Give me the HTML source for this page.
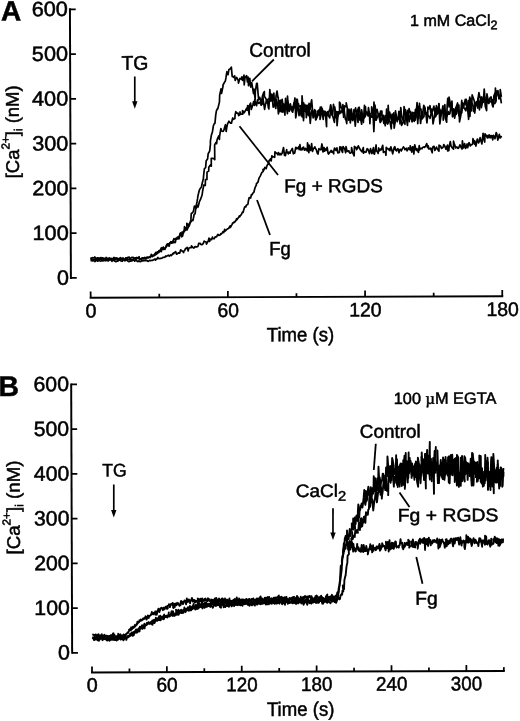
<!DOCTYPE html>
<html><head><meta charset="utf-8"><title>Figure</title>
<style>
html,body{margin:0;padding:0;background:#fff;}
body{width:520px;height:721px;overflow:hidden;}
svg{display:block;}
svg text{font-family:"Liberation Sans", sans-serif;fill:#000;stroke:#000;stroke-width:0.5px;}
svg line, svg path{stroke:#000;}
</style></head><body>
<svg width="520" height="721" viewBox="0 0 520 721">
<rect width="520" height="721" fill="#fff"/>
<g transform="rotate(-0.2063 260.0 360.5)">
<line x1="71.2" y1="7.65" x2="71.2" y2="278.28" stroke-width="1.95"/>
<line x1="71.2" y1="277.3" x2="77.0" y2="277.3" stroke-width="1.75"/>
<text x="69.2" y="284.0" font-size="20.6" text-anchor="end" textLength="12" lengthAdjust="spacingAndGlyphs">0</text>
<line x1="71.2" y1="232.52" x2="77.0" y2="232.52" stroke-width="1.75"/>
<text x="69.2" y="239.22" font-size="20.6" text-anchor="end" textLength="36.3" lengthAdjust="spacingAndGlyphs">100</text>
<line x1="71.2" y1="187.74" x2="77.0" y2="187.74" stroke-width="1.75"/>
<text x="69.2" y="194.44" font-size="20.6" text-anchor="end" textLength="36.3" lengthAdjust="spacingAndGlyphs">200</text>
<line x1="71.2" y1="142.96" x2="77.0" y2="142.96" stroke-width="1.75"/>
<text x="69.2" y="149.66" font-size="20.6" text-anchor="end" textLength="36.3" lengthAdjust="spacingAndGlyphs">300</text>
<line x1="71.2" y1="98.18" x2="77.0" y2="98.18" stroke-width="1.75"/>
<text x="69.2" y="104.88" font-size="20.6" text-anchor="end" textLength="36.3" lengthAdjust="spacingAndGlyphs">400</text>
<line x1="71.2" y1="53.4" x2="77.0" y2="53.4" stroke-width="1.75"/>
<text x="69.2" y="60.1" font-size="20.6" text-anchor="end" textLength="36.3" lengthAdjust="spacingAndGlyphs">500</text>
<line x1="71.2" y1="8.62" x2="77.0" y2="8.62" stroke-width="1.75"/>
<text x="69.2" y="15.32" font-size="20.6" text-anchor="end" textLength="36.3" lengthAdjust="spacingAndGlyphs">600</text>
<line x1="89.93" y1="297.1" x2="503.48" y2="297.1" stroke-width="1.95"/>
<line x1="90.9" y1="297.1" x2="90.9" y2="290.9" stroke-width="1.75"/>
<text x="91.2" y="316.8" font-size="19.6" text-anchor="middle" textLength="11" lengthAdjust="spacingAndGlyphs">0</text>
<line x1="159.5" y1="297.1" x2="159.5" y2="293.3" stroke-width="1.75"/>
<line x1="228.1" y1="297.1" x2="228.1" y2="290.9" stroke-width="1.75"/>
<text x="228.4" y="316.8" font-size="19.6" text-anchor="middle" textLength="21.5" lengthAdjust="spacingAndGlyphs">60</text>
<line x1="296.7" y1="297.1" x2="296.7" y2="293.3" stroke-width="1.75"/>
<line x1="365.3" y1="297.1" x2="365.3" y2="290.9" stroke-width="1.75"/>
<text x="365.6" y="316.8" font-size="19.6" text-anchor="middle" textLength="32.5" lengthAdjust="spacingAndGlyphs">120</text>
<line x1="433.91" y1="297.1" x2="433.91" y2="293.3" stroke-width="1.75"/>
<line x1="502.51" y1="297.1" x2="502.51" y2="290.9" stroke-width="1.75"/>
<text x="502.81" y="316.8" font-size="19.6" text-anchor="middle" textLength="32.5" lengthAdjust="spacingAndGlyphs">180</text>
<text x="300.57" y="341.45" font-size="19.6" text-anchor="middle" font-weight="normal" textLength="67.5" lengthAdjust="spacingAndGlyphs">Time (s)</text>
<text x="2.22" y="19.57" font-size="28" text-anchor="start" font-weight="bold">A</text>
<text transform="translate(19.66,177.43) rotate(-90)" font-size="18.4" textLength="93" lengthAdjust="spacingAndGlyphs">[Ca<tspan dy="-9.3" font-size="11.6">2+</tspan><tspan dy="9.3">]</tspan><tspan dy="3.5" font-size="11.6">i</tspan><tspan dy="-3.5"> (nM)</tspan></text>
<text x="122.55" y="69.2" font-size="19.8" text-anchor="start" font-weight="normal" textLength="27" lengthAdjust="spacingAndGlyphs">TG</text>
<line x1="135.82" y1="76.05" x2="135.71" y2="101.85" stroke-width="1.7"/>
<polygon points="133.01,100.85 138.41,100.85 135.71,108.35" fill="#000" stroke="none"/>
<text x="250.39" y="56.76" font-size="19.6" text-anchor="start" font-weight="normal" textLength="61.5" lengthAdjust="spacingAndGlyphs">Control</text>
<line x1="274.88" y1="59.55" x2="253.01" y2="81.27" stroke-width="1.8"/>
<text x="284.9" y="192.59" font-size="19" text-anchor="start" font-weight="normal" textLength="98.5" lengthAdjust="spacingAndGlyphs">Fg + RGDS</text>
<line x1="240.34" y1="126.23" x2="278.67" y2="175.06" stroke-width="1.8"/>
<text x="269.68" y="255.33" font-size="19.3" text-anchor="start" font-weight="normal" textLength="21.5" lengthAdjust="spacingAndGlyphs">Fg</text>
<line x1="257.58" y1="199.99" x2="270.45" y2="235.04" stroke-width="1.8"/>
<text x="411.2" y="26.54" font-size="16" text-anchor="start" font-weight="normal" textLength="87.5" lengthAdjust="spacingAndGlyphs">1 mM CaCl<tspan dy="3.6" font-size="12.5">2</tspan></text>
<path d="M90.9,256.9 91.9,258.4 93.0,257.0 93.2,257.3 94.7,257.3 95.2,256.3 95.5,257.2 96.5,257.9 97.8,257.3 98.2,257.2 99.0,257.5 99.8,257.9 101.4,257.0 102.0,257.8 103.3,257.3 103.4,257.5 104.6,258.2 105.4,257.7 106.3,257.5 106.5,256.9 108.1,258.4 109.2,257.7 109.6,257.3 110.1,258.0 111.5,258.6 111.6,257.8 112.8,258.8 114.3,256.9 114.8,257.4 115.9,257.8 116.5,257.4 117.6,257.7 118.5,258.5 118.7,258.2 119.4,258.0 120.9,257.2 121.4,258.2 121.9,258.2 123.3,257.4 123.5,258.4 124.5,259.1 126.0,258.6 126.0,257.3 127.2,258.2 127.7,257.2 129.7,256.7 130.1,258.2 130.6,258.2 132.1,256.9 132.5,257.2 133.3,256.8 134.3,257.5 134.8,258.0 135.7,257.4 136.6,257.2 137.3,257.0 138.6,257.8 139.5,256.3 139.7,258.3 141.5,258.2 142.1,257.7 143.1,257.5 143.8,257.6 144.0,258.3 145.2,257.0 146.1,257.7 147.2,257.4 147.8,256.9 148.9,257.4 149.7,256.5 150.6,257.1 151.3,255.6 151.7,253.9 153.2,255.4 154.1,254.9 155.1,253.5 155.2,254.3 156.0,252.2 157.0,252.8 157.8,251.4 159.2,252.0 159.8,250.1 160.9,250.9 161.3,248.6 161.8,247.4 162.7,248.3 163.8,246.7 164.5,248.4 166.0,247.2 166.6,246.5 167.6,243.8 168.2,245.1 168.6,243.5 169.6,243.3 170.7,242.3 171.3,241.4 171.9,242.9 173.6,240.5 174.4,238.2 174.8,239.3 176.2,238.6 176.6,238.7 178.0,236.8 178.6,236.7 179.4,236.9 179.8,236.6 181.0,232.7 182.3,235.0 182.5,231.7 183.9,232.8 184.8,228.8 185.0,226.4 186.3,228.3 187.4,227.2 187.3,223.0 189.0,225.4 189.1,224.3 190.7,222.4 191.4,219.4 191.8,213.2 192.5,212.9 193.9,211.3 195.0,205.8 195.8,206.9 196.4,207.3 197.6,201.5 198.1,198.7 198.5,195.9 199.6,191.3 200.3,189.1 201.9,187.0 202.1,186.3 203.6,180.0 203.9,179.3 204.4,174.4 205.1,168.4 206.3,167.5 206.9,160.7 208.3,158.9 208.9,153.6 210.4,151.0 211.2,144.2 211.2,140.6 212.3,134.4 213.2,132.1 214.2,125.7 215.3,123.1 215.8,123.2 216.6,115.0 217.3,110.8 218.8,107.8 218.7,108.7 220.4,101.7 220.6,95.3 222.0,88.8 222.5,93.2 224.0,86.1 223.9,85.1 224.8,83.4 226.4,80.8 227.0,77.6 227.5,74.0 228.0,71.6 229.1,74.5 229.9,69.4 230.8,69.1 232.4,67.1 233.2,76.3 233.9,76.5 234.5,77.2 235.7,75.8 236.2,80.4 236.9,78.4 237.7,77.4 239.2,80.4 239.5,83.0 240.5,79.8 241.0,78.2 242.6,79.3 242.9,76.9 243.6,80.3 245.0,75.1 245.2,84.9 246.0,77.8 247.6,75.6 248.4,81.9 249.1,77.1 249.5,85.7 250.8,78.4 251.7,87.0 252.2,85.5 252.7,82.5 254.5,93.5 254.9,89.2 256.1,99.5 256.3,91.6 257.6,83.4 258.2,83.3 259.0,93.0 259.6,99.8 260.6,97.4 261.3,99.3 262.4,102.7 263.7,95.2 264.4,93.2 265.3,91.6 265.4,96.5 267.0,98.9 267.7,102.9 268.2,100.3 269.0,99.2 269.9,99.2 271.4,96.7 272.4,94.3 273.2,98.7 273.5,101.0 274.8,93.2 275.4,103.5 276.5,105.6 277.0,96.1 278.0,91.2 279.0,98.2 279.1,97.2 280.5,111.6 281.1,100.7 282.2,112.0 283.5,103.3 283.7,112.3 284.6,104.4 285.8,115.2 286.5,98.5 287.1,105.2 288.3,113.7 288.8,103.6 289.4,110.8 290.6,106.8 291.3,103.9 292.0,110.0 293.6,112.3 294.2,106.1 295.0,102.7 296.0,108.2 296.6,107.2 297.6,99.4 298.7,109.6 299.5,104.1 299.6,107.1 300.6,106.6 301.2,105.8 303.0,116.9 303.1,102.2 304.4,120.8 304.6,103.0 305.6,111.2 306.8,107.3 307.2,117.8 308.3,109.0 309.4,115.7 310.0,105.0 311.1,123.5 311.9,115.3 312.6,110.5 313.8,113.8 314.6,117.3 315.5,115.0 316.2,110.9 316.8,119.8 317.9,114.7 319.1,112.9 319.6,110.3 320.9,115.2 321.2,107.2 322.3,111.6 322.4,107.3 324.1,119.6 324.6,111.6 324.9,112.8 326.1,115.8 327.2,113.8 328.3,111.9 328.4,115.6 329.8,111.9 330.9,109.0 331.6,105.0 332.7,110.5 332.7,115.1 333.7,116.6 335.3,122.6 336.0,110.0 336.6,117.9 337.7,113.7 338.7,112.1 339.6,113.6 340.5,113.9 340.4,102.5 341.1,103.6 342.0,107.5 342.8,108.8 344.7,114.9 344.6,107.0 346.2,119.4 346.9,120.4 347.6,123.9 348.2,110.1 349.1,110.4 349.8,109.5 351.4,115.6 352.1,109.6 352.1,120.1 353.5,118.1 354.1,119.5 354.7,115.7 356.5,108.2 357.2,111.9 357.6,115.0 358.9,122.8 359.3,108.3 360.1,107.6 361.6,116.5 362.5,120.9 362.9,116.4 364.2,122.9 365.0,111.1 365.4,105.8 366.1,117.1 367.3,112.4 367.9,112.4 368.9,116.3 370.2,112.5 370.8,124.0 371.2,114.4 371.8,116.6 372.7,117.5 373.9,114.5 374.7,132.0 375.9,105.5 376.9,115.1 377.0,120.6 378.6,116.5 379.5,115.0 380.4,113.9 380.2,118.4 381.1,122.9 381.9,121.7 383.1,117.6 383.6,117.1 384.7,123.9 385.7,119.6 387.2,116.6 387.5,109.5 388.1,121.5 389.2,123.2 390.2,115.3 390.5,112.5 392.1,120.1 393.0,114.6 393.8,123.7 394.7,113.3 395.0,128.7 396.0,122.7 396.4,115.9 397.4,120.1 399.1,118.7 399.2,119.4 400.7,120.4 401.5,118.8 402.4,123.7 402.4,125.8 404.1,122.6 404.7,113.5 405.0,107.0 406.0,115.4 406.7,112.9 407.9,120.4 408.3,110.8 409.2,115.9 410.1,122.1 411.5,112.6 412.2,119.6 413.4,121.4 413.6,114.4 414.9,119.4 415.1,121.9 416.4,110.0 417.7,111.1 418.7,115.4 418.4,116.0 419.5,119.1 420.4,103.9 421.0,110.1 421.8,109.6 423.2,119.4 423.6,113.7 424.7,105.9 425.9,109.2 426.4,115.0 427.2,113.4 428.4,117.1 429.0,116.0 430.2,117.6 430.9,119.0 431.9,114.2 432.4,109.8 433.2,115.1 433.9,124.5 435.6,115.3 436.3,109.0 437.3,113.6 437.3,106.3 439.0,113.8 439.8,104.2 440.0,109.3 440.8,110.1 442.0,115.4 442.4,111.8 443.6,111.6 444.1,113.6 445.8,105.4 446.2,119.0 447.5,122.8 448.0,107.8 448.7,99.0 450.1,107.7 450.0,97.9 451.4,105.4 452.3,110.4 452.9,101.9 453.3,117.5 454.7,109.9 455.5,114.6 456.7,108.4 457.0,115.0 457.9,108.4 458.6,108.5 460.0,116.7 461.2,112.3 461.1,119.1 462.7,101.2 462.9,109.2 463.5,103.5 464.5,107.9 466.2,100.1 467.0,105.9 467.2,100.0 468.8,112.7 469.5,120.1 469.9,104.2 470.8,117.2 471.8,99.2 472.1,104.1 472.8,103.7 474.0,106.6 474.5,112.1 476.1,108.0 476.8,105.2 477.4,102.4 478.8,108.9 478.9,99.8 479.9,93.4 480.8,98.3 481.5,99.1 482.3,106.4 484.0,100.8 484.0,98.0 485.5,99.8 485.7,97.8 486.4,107.7 487.9,99.7 489.1,104.2 489.9,104.2 490.2,101.5 490.7,101.4 492.4,103.3 493.3,100.7 494.2,105.4 494.8,96.8 495.8,94.1 496.8,102.9 497.1,94.1 498.1,95.4 498.9,91.5 499.9,99.8 500.8,95.9 501.4,98.2 502.3,104.3" fill="none" stroke-width="1.7" stroke-linejoin="round"/>
<path d="M90.9,259.1 91.7,258.8 93.0,259.8 93.9,259.1 94.7,259.0 95.4,258.8 95.7,259.1 97.3,258.7 97.4,258.2 98.9,258.3 98.9,258.4 99.7,259.4 101.4,257.5 101.5,258.9 102.7,258.0 103.4,258.7 104.2,259.2 105.2,258.9 106.1,259.0 107.4,258.4 108.0,258.6 109.2,258.9 109.9,258.5 110.0,258.4 111.2,258.1 112.2,259.4 112.7,258.2 113.9,257.9 115.2,258.2 115.2,259.4 116.7,258.4 117.8,258.0 117.8,259.5 119.3,259.4 119.4,258.6 121.1,258.4 121.2,259.2 122.1,258.8 123.6,257.9 123.8,259.0 124.6,258.6 125.5,258.7 126.8,258.8 126.9,258.2 127.9,258.8 128.7,258.9 130.0,258.6 130.3,259.0 132.1,259.2 132.5,259.6 133.5,259.1 133.9,258.5 135.3,258.2 135.4,258.6 136.3,258.0 138.1,257.9 138.2,257.8 139.3,257.8 140.2,259.1 140.7,258.6 142.0,259.1 142.5,258.6 143.7,258.3 144.1,257.6 145.2,257.8 146.1,258.5 146.4,257.4 147.4,256.8 148.2,257.4 149.5,256.9 150.4,256.1 151.7,255.6 151.9,255.2 152.6,256.3 154.3,254.9 154.7,255.3 156.0,254.2 156.2,252.3 156.7,253.9 158.0,252.7 159.4,251.7 159.2,250.5 160.5,250.2 161.8,251.2 161.9,248.2 163.4,248.4 163.5,249.2 164.6,248.4 165.3,249.1 167.0,244.6 167.5,245.3 168.0,243.8 169.5,245.9 170.0,244.1 170.6,242.5 171.8,241.5 172.7,242.6 173.8,242.4 173.7,240.8 175.4,242.3 176.0,241.5 176.3,238.0 177.5,238.8 177.9,238.6 179.7,238.4 179.7,236.0 180.7,233.2 182.0,236.5 183.0,235.8 183.2,235.1 184.0,231.0 184.7,231.3 185.6,230.2 187.3,227.7 187.4,229.8 188.5,227.3 189.8,225.4 190.8,222.1 191.6,221.3 192.5,220.4 193.2,219.6 193.5,220.2 194.7,214.0 195.6,213.6 196.2,208.8 197.2,207.2 198.5,204.9 198.6,206.8 200.1,201.1 201.1,199.2 201.5,198.1 202.7,194.8 203.3,190.4 204.2,186.2 204.3,184.8 205.9,185.3 206.1,179.3 207.6,179.3 207.7,171.9 209.4,170.8 209.5,167.1 211.1,164.8 212.0,166.0 212.0,158.1 212.8,158.1 214.6,158.5 215.5,159.5 215.4,144.8 216.8,142.2 217.4,143.5 217.9,139.5 219.6,135.8 220.2,139.2 220.4,135.9 221.7,128.5 222.5,130.8 224.0,131.3 224.9,129.7 224.9,129.1 226.3,124.6 227.0,131.4 227.6,127.2 228.6,123.1 229.3,122.3 229.8,121.1 231.4,123.1 232.3,123.1 233.3,118.8 233.7,117.9 234.0,119.3 235.8,118.4 235.9,115.4 236.7,111.5 237.5,113.0 238.9,112.9 239.5,115.5 240.7,114.7 240.9,111.9 241.6,113.9 243.5,114.2 243.4,110.6 244.5,111.8 245.0,112.8 246.8,109.7 247.6,108.0 248.2,110.2 248.6,105.6 250.1,114.8 250.2,105.8 251.5,103.0 252.2,109.4 253.8,104.4 254.6,101.5 255.3,105.3 255.7,99.9 256.6,103.2 257.5,105.7 258.4,99.8 258.8,102.4 259.7,103.3 261.1,101.9 262.1,105.3 263.1,104.1 263.7,95.5 264.3,100.9 264.7,103.8 265.5,109.4 266.4,104.2 267.9,99.7 268.3,99.9 269.3,107.8 269.8,108.9 270.8,89.6 271.8,101.2 272.9,94.4 274.1,107.3 274.1,106.6 275.1,104.3 276.7,108.5 277.4,100.0 278.4,104.1 278.7,106.0 279.3,113.9 280.1,109.4 281.6,100.5 282.6,103.0 283.1,99.4 284.0,107.6 285.1,104.3 285.2,110.3 286.5,106.9 287.3,107.0 288.5,96.3 288.7,100.3 289.4,104.5 290.2,111.4 291.2,104.9 291.8,108.9 293.0,106.9 294.1,109.9 294.8,105.5 295.9,98.1 296.6,118.1 297.7,111.6 298.2,99.4 299.4,108.6 299.9,115.8 301.1,109.1 302.0,115.9 302.9,109.7 303.0,95.9 304.5,118.2 304.5,109.0 305.8,104.8 306.8,112.1 307.1,105.8 308.0,105.3 309.0,112.1 310.0,103.5 311.2,109.3 311.5,105.4 312.6,100.0 314.0,118.1 314.2,113.9 315.6,109.9 316.2,116.4 316.5,120.1 318.3,116.8 318.2,111.3 319.3,115.3 320.9,109.3 320.9,119.5 322.6,112.4 323.1,109.0 323.4,110.4 324.2,111.8 326.0,111.7 326.3,113.4 327.4,127.0 327.6,113.8 328.9,115.3 329.3,115.5 330.6,118.1 330.9,115.4 331.8,109.3 333.6,114.7 334.4,104.6 335.1,108.9 335.7,107.4 336.1,111.5 337.6,111.9 337.9,125.9 338.6,118.5 339.7,112.1 340.9,111.2 341.7,113.2 342.8,110.9 343.2,112.1 343.8,105.0 344.5,117.6 345.5,106.2 347.2,107.1 347.1,103.1 348.6,110.4 349.2,120.5 349.8,110.5 351.2,123.3 351.9,115.3 352.2,109.4 353.7,121.0 353.9,119.8 354.9,110.0 356.1,126.6 357.2,113.2 357.9,111.9 359.1,109.6 359.7,113.9 360.8,120.5 360.9,115.6 362.5,124.6 362.5,110.1 363.4,116.1 364.2,119.0 365.0,118.5 366.4,107.2 366.6,111.6 368.3,115.1 368.9,114.1 369.4,107.9 370.9,119.0 371.7,114.5 372.4,114.0 372.6,107.2 374.4,117.2 374.9,102.5 376.0,120.6 376.1,116.1 376.8,112.3 377.9,109.7 379.3,115.9 380.2,116.3 381.1,119.8 381.4,111.6 382.8,111.6 382.9,115.7 384.2,119.9 384.5,115.9 386.1,126.2 386.5,116.0 387.1,122.1 388.5,124.5 389.1,105.9 389.9,120.8 390.8,122.1 392.1,129.3 392.5,120.4 393.9,121.5 393.9,122.1 395.0,124.7 396.4,111.4 397.0,115.1 398.0,122.2 398.9,118.9 399.4,115.5 399.8,111.8 400.9,124.4 401.7,108.1 402.4,115.9 403.8,119.9 404.2,120.9 405.8,124.8 406.2,110.1 407.4,119.2 408.3,126.0 408.9,116.8 410.0,109.1 410.8,113.1 411.4,112.2 412.0,115.5 412.9,122.5 413.6,112.8 414.7,113.9 415.5,113.3 416.2,120.7 416.8,116.7 418.0,103.2 418.6,124.3 419.7,106.9 420.2,106.7 421.4,124.1 422.4,116.7 422.7,118.4 423.8,118.3 424.8,117.2 425.5,107.5 426.7,113.2 427.8,123.6 428.6,115.9 428.8,107.7 429.7,109.5 430.9,106.3 431.6,112.8 432.1,110.5 433.1,112.3 434.8,106.8 435.6,112.3 435.8,111.8 436.3,117.6 438.0,114.1 438.3,114.7 438.9,113.2 439.9,104.8 440.7,124.6 442.4,112.8 442.4,113.3 443.9,106.5 444.1,120.7 444.8,116.5 446.0,110.4 447.1,115.7 447.9,116.9 449.1,112.2 449.5,114.9 450.5,114.8 450.8,114.1 452.4,103.0 453.2,111.1 454.2,116.5 454.2,109.5 455.5,118.9 456.5,113.1 456.7,108.9 458.5,103.7 459.3,114.3 459.8,105.7 460.4,122.6 461.7,115.2 462.7,113.3 463.2,108.3 464.4,107.5 464.5,108.5 465.5,109.2 466.8,111.5 467.3,107.9 468.3,107.6 469.3,101.4 470.1,105.4 470.7,97.9 471.3,105.9 472.4,111.6 473.1,95.7 474.6,99.7 475.4,102.9 475.6,113.8 476.9,103.5 477.8,102.9 478.4,103.5 478.9,99.5 480.4,110.6 480.6,103.0 482.1,97.7 482.3,108.5 483.7,99.5 484.2,103.3 485.2,89.9 486.6,108.5 487.5,111.4 487.9,94.6 488.9,100.4 489.8,102.0 490.6,100.0 490.8,98.9 492.0,97.7 493.3,106.3 494.0,107.8 494.3,104.6 495.9,104.2 496.4,89.0 496.9,101.2 497.5,91.9 499.1,95.1 499.6,97.7 501.1,97.5 501.2,90.4 502.3,97.8" fill="none" stroke-width="1.7" stroke-linejoin="round"/>
<path d="M90.9,259.8 91.7,260.0 92.3,260.2 93.7,259.9 94.6,260.5 95.4,261.0 96.1,260.0 97.2,259.5 97.7,260.5 98.3,260.6 99.1,259.1 99.8,260.1 101.2,260.6 102.2,259.7 102.9,259.4 103.2,260.4 104.7,259.6 105.6,260.2 106.0,259.4 107.1,260.0 107.4,260.0 108.8,260.4 109.0,260.0 110.2,259.0 111.6,259.7 112.3,260.7 112.8,260.2 114.3,259.3 114.8,260.4 116.0,261.0 116.3,261.2 117.4,260.6 118.2,260.7 118.4,260.1 119.4,259.9 120.2,259.3 121.1,260.3 122.8,260.7 123.3,259.5 124.3,259.3 125.3,260.4 125.4,260.0 126.8,259.6 127.4,259.1 128.1,260.6 129.4,261.2 130.3,260.3 130.9,260.8 131.9,260.5 132.9,260.0 133.2,259.8 134.6,259.8 135.0,260.7 136.4,259.2 137.0,260.1 137.7,261.1 139.0,260.7 139.3,260.3 139.8,261.1 141.0,261.3 141.7,260.5 143.2,260.4 143.2,260.4 144.5,260.3 145.3,259.6 145.7,260.3 147.2,259.9 147.9,260.6 148.6,261.0 150.0,260.0 149.9,260.0 151.4,260.2 151.8,260.0 152.9,260.0 153.6,259.7 154.8,258.8 155.9,259.8 155.8,258.6 157.1,258.9 158.3,257.0 158.6,258.1 159.5,258.2 161.0,258.0 161.0,258.1 162.4,257.8 163.3,257.1 164.1,257.1 164.3,257.0 166.2,256.3 166.0,255.8 166.8,255.9 168.3,255.1 168.6,254.9 169.7,255.7 171.1,254.5 171.7,255.2 172.5,254.3 173.8,252.6 173.7,253.7 175.5,251.9 176.0,251.4 176.9,253.5 177.0,253.9 178.8,252.6 179.1,252.6 180.0,252.9 181.1,249.6 181.7,250.0 183.1,251.2 184.0,252.3 184.2,250.7 184.9,250.5 186.0,248.2 187.5,248.2 187.5,247.1 188.6,250.7 189.1,248.0 190.3,247.4 191.7,247.5 191.9,245.6 192.3,246.0 193.8,247.8 194.9,247.4 195.2,246.6 195.8,246.4 197.0,246.7 198.3,246.2 198.8,244.8 199.1,243.1 200.7,243.1 201.1,244.2 202.3,244.5 203.0,244.0 203.6,243.4 204.6,240.9 205.4,241.5 206.5,241.6 206.9,243.9 208.7,240.7 209.4,237.9 210.1,241.3 210.4,239.0 212.1,239.4 212.9,236.9 212.8,237.7 213.8,238.5 214.6,238.6 215.6,236.7 217.0,236.7 218.0,234.8 218.4,234.2 219.1,235.2 220.3,235.1 221.3,233.5 221.8,233.9 222.6,232.8 223.4,231.6 224.2,232.5 225.1,229.3 225.6,230.9 227.3,229.3 227.7,229.0 228.8,228.4 229.4,227.9 230.6,225.7 230.8,227.4 232.3,224.8 233.3,222.7 233.3,223.2 234.4,222.1 234.9,222.3 236.5,220.3 237.1,218.6 237.4,219.7 239.2,217.2 240.1,215.7 240.2,216.8 241.6,214.6 241.7,214.9 243.2,211.7 243.7,212.3 244.2,210.1 245.3,206.8 246.5,206.8 246.7,205.3 248.5,204.2 248.9,201.2 249.8,197.5 251.2,198.0 252.0,194.7 252.6,194.9 253.5,193.1 254.4,192.4 255.1,189.7 255.9,187.1 257.0,184.9 257.0,183.9 258.8,181.9 258.9,180.9 259.7,178.1 261.0,175.9 261.8,174.2 262.6,172.4 263.8,171.6 263.7,169.3 264.7,169.8 265.6,167.4 266.9,168.6 267.5,166.1 268.7,163.8 269.3,164.2 269.7,160.9 271.4,158.9 271.9,161.0 272.6,155.8 273.4,157.1 274.9,156.7 275.4,157.4 275.7,151.8 276.9,153.0 278.4,154.2 278.4,154.7 279.1,152.7 279.9,154.9 280.8,153.5 281.6,155.0 282.9,153.4 284.3,147.6 285.2,155.5 286.0,153.1 286.2,155.7 287.4,149.8 287.6,151.7 289.2,154.0 289.5,152.2 290.8,153.3 291.2,151.4 292.3,150.1 293.1,148.6 294.1,153.9 294.7,152.8 295.4,153.3 296.6,147.4 297.7,148.9 298.1,148.7 299.6,146.9 299.9,149.7 300.7,144.7 301.5,150.1 303.0,149.8 303.1,148.4 304.3,147.3 305.1,150.3 306.4,149.9 306.3,148.6 308.1,151.1 308.3,143.0 309.6,152.8 309.8,145.2 311.2,150.6 311.7,150.0 312.4,143.9 313.2,151.7 314.1,149.1 315.7,147.1 316.1,148.6 316.8,149.3 318.2,153.6 318.7,154.3 319.7,148.7 320.1,149.6 320.9,149.5 321.7,150.0 322.7,144.2 323.7,152.2 324.8,147.7 325.3,151.5 326.2,149.2 326.8,150.6 327.9,147.5 328.9,153.8 329.3,154.3 330.8,152.2 331.9,150.7 332.3,152.4 332.9,151.4 334.5,154.0 334.4,152.1 335.3,148.3 336.8,150.7 337.7,148.2 338.1,150.9 338.6,153.2 340.1,152.7 340.6,147.2 342.0,147.6 342.0,150.0 343.3,152.7 343.8,146.8 345.5,149.4 346.4,153.1 346.8,146.9 347.8,151.3 348.8,151.8 349.7,151.1 349.7,152.1 350.8,153.5 352.1,152.9 352.4,147.9 353.4,153.0 354.9,156.1 355.2,146.8 356.1,147.9 356.6,147.6 357.4,150.1 359.1,146.2 359.8,148.0 359.9,148.1 361.6,150.9 362.4,151.8 362.7,152.2 364.1,148.0 364.2,153.6 365.1,152.1 366.7,152.6 367.1,151.4 367.9,149.1 368.6,149.6 369.3,151.2 370.2,154.0 371.3,149.1 372.2,152.2 372.6,154.0 374.2,148.1 374.3,153.1 375.2,154.6 376.9,145.4 377.2,151.3 377.8,151.6 378.9,153.9 379.5,148.4 380.3,151.2 382.1,149.0 382.0,150.3 383.5,145.7 384.1,152.9 384.7,151.9 386.2,152.7 386.7,155.7 387.0,147.9 388.2,149.0 389.3,150.2 390.0,149.1 390.7,151.2 391.6,147.3 392.4,149.8 393.4,154.4 394.9,148.1 395.6,147.2 396.1,150.2 397.3,151.4 397.3,150.1 398.7,149.2 399.8,153.2 400.0,150.6 401.2,149.8 402.0,151.5 402.4,150.6 404.2,147.3 404.4,148.0 405.4,149.0 405.7,150.2 407.1,148.8 407.8,151.4 409.2,149.2 409.1,148.3 410.9,150.5 411.0,146.3 412.5,152.7 413.3,147.3 414.0,147.7 414.6,154.6 415.5,145.3 416.6,150.0 417.1,151.0 417.6,149.2 419.2,152.9 420.0,146.2 420.4,150.5 421.2,148.9 422.8,149.3 423.0,148.5 423.6,147.8 425.3,147.4 425.5,148.0 426.5,146.5 427.5,144.2 428.3,148.2 428.9,146.3 429.7,149.7 430.9,149.1 431.3,148.7 433.0,153.4 433.1,149.2 433.9,147.1 434.8,146.9 435.6,151.1 437.3,147.7 437.6,148.8 438.8,150.7 439.7,151.8 439.8,145.8 441.2,146.6 442.3,149.1 442.5,148.9 444.1,147.5 444.5,145.2 445.3,146.2 446.7,149.9 446.7,149.0 448.3,145.8 448.4,151.7 449.6,151.1 449.9,147.7 451.1,142.2 451.8,146.7 453.3,148.9 454.3,149.9 454.3,141.9 455.0,144.2 456.5,148.6 457.7,147.7 458.6,149.1 459.3,149.0 460.0,147.2 460.7,145.5 460.9,146.2 462.8,149.8 463.2,141.5 464.0,148.5 464.3,148.6 465.4,144.4 466.4,149.2 467.9,144.7 468.4,148.5 469.3,145.0 469.8,143.4 471.1,146.7 471.3,145.4 472.3,145.7 473.4,144.8 473.8,139.4 475.5,145.0 475.6,141.7 476.7,146.8 478.1,139.8 478.3,139.8 479.4,143.7 480.4,141.3 480.9,138.4 481.6,141.0 482.7,144.7 483.9,134.1 484.3,138.7 485.5,142.9 485.8,134.6 486.8,136.0 488.3,138.8 488.2,136.4 490.0,138.5 489.9,135.6 491.6,138.6 491.9,136.5 493.1,136.6 493.5,140.8 494.3,136.2 495.0,137.6 495.8,139.5 497.0,133.4 497.5,134.3 498.6,140.9 500.1,135.3 500.8,138.8 501.3,138.6 502.3,136.7" fill="none" stroke-width="1.7" stroke-linejoin="round"/>
<line x1="71.1" y1="382.73" x2="71.1" y2="653.18" stroke-width="1.95"/>
<line x1="71.1" y1="652.2" x2="76.9" y2="652.2" stroke-width="1.75"/>
<text x="68.89999999999999" y="658.9" font-size="20.6" text-anchor="end" textLength="12" lengthAdjust="spacingAndGlyphs">0</text>
<line x1="71.1" y1="607.45" x2="76.9" y2="607.45" stroke-width="1.75"/>
<text x="68.89999999999999" y="614.15" font-size="20.6" text-anchor="end" textLength="35.5" lengthAdjust="spacingAndGlyphs">100</text>
<line x1="71.1" y1="562.7" x2="76.9" y2="562.7" stroke-width="1.75"/>
<text x="68.89999999999999" y="569.4" font-size="20.6" text-anchor="end" textLength="35.5" lengthAdjust="spacingAndGlyphs">200</text>
<line x1="71.1" y1="517.95" x2="76.9" y2="517.95" stroke-width="1.75"/>
<text x="68.89999999999999" y="524.65" font-size="20.6" text-anchor="end" textLength="35.5" lengthAdjust="spacingAndGlyphs">300</text>
<line x1="71.1" y1="473.2" x2="76.9" y2="473.2" stroke-width="1.75"/>
<text x="68.89999999999999" y="479.9" font-size="20.6" text-anchor="end" textLength="35.5" lengthAdjust="spacingAndGlyphs">400</text>
<line x1="71.1" y1="428.45" x2="76.9" y2="428.45" stroke-width="1.75"/>
<text x="68.89999999999999" y="435.15" font-size="20.6" text-anchor="end" textLength="35.5" lengthAdjust="spacingAndGlyphs">500</text>
<line x1="71.1" y1="383.7" x2="76.9" y2="383.7" stroke-width="1.75"/>
<text x="68.89999999999999" y="390.4" font-size="20.6" text-anchor="end" textLength="35.5" lengthAdjust="spacingAndGlyphs">600</text>
<line x1="89.93" y1="671.8" x2="503.68" y2="671.8" stroke-width="1.95"/>
<line x1="90.9" y1="671.8" x2="90.9" y2="665.8" stroke-width="1.75"/>
<text x="91.0" y="691.0999999999999" font-size="19.6" text-anchor="middle" textLength="11" lengthAdjust="spacingAndGlyphs">0</text>
<line x1="128.34" y1="671.8" x2="128.34" y2="668.0" stroke-width="1.75"/>
<line x1="165.77" y1="671.8" x2="165.77" y2="665.8" stroke-width="1.75"/>
<text x="165.87" y="691.0999999999999" font-size="19.6" text-anchor="middle" textLength="21.3" lengthAdjust="spacingAndGlyphs">60</text>
<line x1="203.21" y1="671.8" x2="203.21" y2="668.0" stroke-width="1.75"/>
<line x1="240.65" y1="671.8" x2="240.65" y2="665.8" stroke-width="1.75"/>
<text x="240.75" y="691.0999999999999" font-size="19.6" text-anchor="middle" textLength="31.4" lengthAdjust="spacingAndGlyphs">120</text>
<line x1="278.09" y1="671.8" x2="278.09" y2="668.0" stroke-width="1.75"/>
<line x1="315.52" y1="671.8" x2="315.52" y2="665.8" stroke-width="1.75"/>
<text x="315.62" y="691.0999999999999" font-size="19.6" text-anchor="middle" textLength="31.4" lengthAdjust="spacingAndGlyphs">180</text>
<line x1="352.96" y1="671.8" x2="352.96" y2="668.0" stroke-width="1.75"/>
<line x1="390.4" y1="671.8" x2="390.4" y2="665.8" stroke-width="1.75"/>
<text x="390.5" y="691.0999999999999" font-size="19.6" text-anchor="middle" textLength="31.4" lengthAdjust="spacingAndGlyphs">240</text>
<line x1="427.83" y1="671.8" x2="427.83" y2="668.0" stroke-width="1.75"/>
<line x1="465.27" y1="671.8" x2="465.27" y2="665.8" stroke-width="1.75"/>
<text x="465.37" y="691.0999999999999" font-size="19.6" text-anchor="middle" textLength="31.4" lengthAdjust="spacingAndGlyphs">300</text>
<line x1="502.71" y1="671.8" x2="502.71" y2="668.0" stroke-width="1.75"/>
<text x="299.42" y="715.95" font-size="19.6" text-anchor="middle" font-weight="normal" textLength="67.5" lengthAdjust="spacingAndGlyphs">Time (s)</text>
<text x="-1.73" y="395.06" font-size="28.4" text-anchor="start" font-weight="bold">B</text>
<text transform="translate(19.2,553.64) rotate(-90)" font-size="18.4" textLength="94" lengthAdjust="spacingAndGlyphs">[Ca<tspan dy="-9.3" font-size="11.6">2+</tspan><tspan dy="9.3">]</tspan><tspan dy="3.5" font-size="11.6">i</tspan><tspan dy="-3.5"> (nM)</tspan></text>
<text x="101.88" y="476.03" font-size="18.3" text-anchor="start" font-weight="normal" textLength="24.5" lengthAdjust="spacingAndGlyphs">TG</text>
<line x1="113.35" y1="483.97" x2="113.23" y2="510.47" stroke-width="1.7"/>
<polygon points="110.53,509.47 115.93,509.47 113.23,516.97" fill="#000" stroke="none"/>
<text x="359.52" y="438.16" font-size="18.6" text-anchor="start" font-weight="normal" textLength="61" lengthAdjust="spacingAndGlyphs">Control</text>
<line x1="375.5" y1="444.22" x2="373.41" y2="470.41" stroke-width="1.8"/>
<text x="295.21" y="497.13" font-size="18" text-anchor="start" font-weight="normal" textLength="50.5" lengthAdjust="spacingAndGlyphs">CaCl<tspan dy="3.8" font-size="14">2</tspan></text>
<line x1="332.47" y1="508.56" x2="332.35" y2="533.76" stroke-width="1.7"/>
<polygon points="329.65,532.76 335.05,532.76 332.35,540.26" fill="#000" stroke="none"/>
<text x="397.22" y="522.0" font-size="18.2" text-anchor="start" font-weight="normal" textLength="100.5" lengthAdjust="spacingAndGlyphs">Fg + RGDS</text>
<line x1="399.02" y1="493.0" x2="408.97" y2="507.54" stroke-width="1.8"/>
<text x="414.42" y="605.26" font-size="18.8" text-anchor="start" font-weight="normal" textLength="22.5" lengthAdjust="spacingAndGlyphs">Fg</text>
<line x1="415.59" y1="557.56" x2="421.7" y2="584.38" stroke-width="1.8"/>
<text x="393.64" y="404.48" font-size="16.2" text-anchor="start" font-weight="normal" textLength="102.5" lengthAdjust="spacingAndGlyphs">100 <tspan font-family="Liberation Serif, serif">µ</tspan>M EGTA</text>
<path d="M91.5,634.3 91.8,634.3 92.0,633.9 92.6,634.3 93.8,635.4 93.9,634.2 94.9,633.8 94.6,634.8 95.3,635.3 96.5,635.8 96.6,634.6 97.5,633.6 97.9,636.4 98.1,635.3 98.7,634.9 99.5,635.8 99.2,635.1 100.4,634.7 100.9,633.7 100.5,634.1 101.3,635.4 102.0,636.5 102.8,635.1 102.9,634.6 103.5,634.7 103.5,634.2 104.1,636.0 104.9,635.5 105.5,635.1 106.5,635.4 106.3,635.7 107.3,635.9 107.0,636.1 108.1,635.4 108.8,635.8 108.8,636.2 109.2,636.1 109.7,634.7 110.5,634.6 111.1,636.1 112.0,633.0 111.8,635.7 112.6,633.0 112.6,634.8 113.4,634.2 113.7,635.3 114.8,635.9 114.9,636.0 115.7,635.8 116.1,635.9 116.4,636.8 117.2,635.2 117.2,633.3 118.4,634.8 118.8,635.9 118.8,636.3 119.5,633.8 120.3,635.4 120.9,635.1 121.4,635.7 121.9,634.7 122.4,636.4 122.7,634.0 122.7,634.6 124.1,636.3 123.6,634.4 124.2,634.5 124.8,635.6 125.0,633.6 125.7,633.2 127.0,631.7 126.8,632.7 127.7,631.1 128.4,629.8 128.1,629.3 129.2,628.5 129.8,629.9 130.5,627.7 130.1,626.9 131.2,628.5 131.6,626.6 132.2,626.2 132.6,627.5 133.5,626.2 133.9,624.4 133.9,624.6 134.4,626.0 134.7,624.9 136.0,624.3 135.8,622.9 137.0,622.8 136.5,621.2 138.1,621.8 137.8,621.8 138.2,621.5 138.5,619.9 139.8,620.5 139.9,618.9 140.6,619.7 140.9,619.9 141.9,618.9 142.1,618.1 142.9,618.1 142.8,618.8 143.8,618.3 143.6,617.6 145.0,617.8 144.5,615.9 145.6,616.9 145.7,619.2 146.3,616.9 147.0,616.8 147.0,615.0 147.8,617.5 148.2,615.9 149.3,615.2 149.9,614.6 150.1,614.6 150.7,612.4 150.9,611.5 151.1,613.4 152.4,613.8 152.4,614.0 152.9,612.4 154.0,612.9 154.5,614.3 154.3,611.1 155.4,611.0 155.8,613.6 155.8,614.4 156.6,611.2 157.5,608.3 157.4,610.4 157.9,609.5 158.5,611.6 159.5,608.2 159.1,610.3 159.6,608.1 160.6,607.3 161.6,608.5 161.7,609.1 162.0,609.9 162.8,607.4 162.6,608.4 163.6,609.0 164.2,607.8 164.2,607.7 164.8,606.3 165.3,606.5 166.2,608.6 167.0,607.8 166.5,605.7 167.7,605.5 168.1,603.8 169.0,604.8 169.0,606.8 169.8,604.1 170.0,604.7 170.1,603.7 171.2,604.3 171.7,602.6 172.5,607.8 172.2,607.3 172.6,603.3 174.0,603.9 173.8,607.1 174.3,603.8 174.5,603.3 175.3,604.4 175.7,605.0 176.3,602.5 177.1,603.4 177.1,603.8 177.6,603.0 178.6,605.6 179.5,604.4 179.8,604.6 179.9,601.8 180.2,600.6 181.4,603.1 181.9,601.5 182.1,603.8 182.6,602.7 182.7,601.3 184.0,601.3 183.7,600.2 184.5,601.0 185.2,604.1 186.0,598.1 185.7,601.9 186.9,599.6 187.4,600.3 187.1,601.7 187.9,599.2 189.0,600.3 189.2,603.0 189.2,600.9 190.6,599.6 190.5,599.0 191.0,599.6 191.1,597.7 191.6,601.4 192.5,600.3 193.0,599.5 193.9,600.1 193.6,602.3 194.6,602.0 194.7,600.6 195.9,601.5 196.0,600.7 196.9,599.9 196.9,598.1 197.6,600.9 197.7,598.8 198.1,601.3 198.7,601.5 199.5,598.4 199.8,600.4 200.4,601.0 201.3,598.2 201.0,602.8 202.5,599.6 203.0,600.0 202.8,600.3 203.9,600.5 203.6,598.9 204.6,598.3 204.6,600.3 205.4,600.5 206.5,599.1 206.6,600.9 206.9,600.1 207.1,598.1 207.7,599.8 208.9,599.0 208.5,600.6 209.6,601.4 210.5,600.5 210.0,601.7 210.9,599.4 211.5,603.9 211.7,599.7 213.1,600.3 213.5,600.2 214.0,598.3 213.7,599.0 214.9,599.3 215.1,600.8 215.4,597.7 216.2,600.2 216.5,601.5 217.3,599.7 217.0,601.7 218.3,601.3 218.2,598.4 219.2,601.0 219.8,601.7 220.5,601.8 220.1,599.5 221.2,598.4 221.2,604.1 222.2,600.2 222.0,598.5 223.1,600.9 223.8,602.6 224.4,599.8 224.1,598.4 224.5,602.8 225.0,602.0 226.2,599.4 226.7,602.3 227.3,600.8 227.8,600.6 227.7,601.4 228.6,598.3 228.5,603.1 229.2,602.8 229.6,600.6 231.0,600.9 230.5,603.0 231.3,603.1 232.1,602.7 232.4,599.9 233.1,600.6 233.7,599.0 234.3,599.5 234.6,601.5 234.7,602.3 235.1,600.6 235.9,597.4 236.7,601.8 237.2,601.9 237.7,599.7 238.1,601.0 238.2,598.3 239.5,601.5 239.4,599.6 240.3,599.8 240.8,600.1 241.2,599.2 241.8,601.3 242.4,599.4 242.9,599.5 243.5,600.2 243.8,602.9 244.4,599.6 245.0,600.1 244.8,601.6 245.5,598.8 246.0,600.4 246.2,601.7 246.9,603.3 247.4,599.3 248.4,599.0 248.9,600.1 249.2,600.4 249.3,601.9 250.3,600.9 250.6,598.9 251.1,600.1 251.2,600.0 252.3,598.4 252.6,598.4 253.1,602.9 253.5,600.6 254.4,600.4 254.6,599.7 255.1,600.7 255.7,601.0 256.0,598.4 256.8,599.5 256.8,599.6 257.8,598.5 258.3,600.1 258.3,598.2 258.6,598.9 259.7,596.4 260.2,599.5 260.0,600.9 261.1,598.4 261.8,600.5 261.9,600.0 262.0,600.0 262.9,600.8 263.4,599.2 263.9,597.8 264.4,601.8 264.9,597.6 265.2,600.6 265.6,598.2 267.0,597.1 266.6,600.4 267.4,598.5 267.6,600.3 268.3,596.9 269.0,601.0 269.4,599.2 270.0,599.6 270.4,600.7 271.1,599.3 271.0,598.2 272.1,601.9 272.1,601.6 273.2,600.2 273.0,597.8 273.6,600.5 274.3,597.4 275.1,598.4 275.3,600.2 276.4,597.1 276.9,601.0 277.1,601.6 278.0,595.6 277.6,596.1 278.4,597.4 278.7,599.4 280.0,598.3 279.6,597.2 280.4,597.7 280.5,596.8 282.0,601.3 282.1,597.6 282.2,597.8 283.4,599.9 283.9,597.3 284.2,598.9 284.6,598.9 285.1,599.1 285.7,599.4 285.5,597.0 286.4,600.2 286.7,599.7 287.8,600.4 288.2,598.9 288.8,599.9 288.7,598.0 290.0,598.4 290.1,599.3 290.0,599.2 291.2,597.7 291.5,599.1 291.9,599.2 292.4,597.1 293.5,598.4 293.5,597.1 294.2,599.0 295.0,599.2 295.4,598.0 295.3,600.6 296.2,596.1 296.6,599.1 296.7,596.8 297.9,600.0 298.5,599.5 298.6,599.8 299.3,598.8 299.9,596.9 299.7,600.0 300.0,598.4 300.7,598.4 301.8,597.8 302.4,597.1 302.1,598.1 303.0,599.2 303.4,597.7 303.7,596.6 304.2,596.2 305.0,596.5 305.6,599.3 306.3,599.7 306.9,596.7 306.8,598.0 307.5,598.2 308.1,596.4 309.0,596.2 309.4,597.8 309.9,597.1 310.1,598.1 310.4,599.7 310.7,596.4 311.4,598.7 312.6,599.0 312.8,599.4 312.7,598.7 313.6,599.4 313.8,598.1 314.3,599.9 314.6,596.6 315.8,595.8 315.9,597.4 316.3,596.4 316.8,596.7 317.1,597.4 318.2,599.3 318.5,598.1 319.5,596.7 320.0,599.8 320.3,596.0 320.4,599.4 320.9,600.0 322.0,598.9 321.7,597.7 322.8,599.1 323.5,599.7 323.4,599.4 324.1,599.0 324.2,600.0 325.2,596.8 325.1,596.7 326.5,594.7 326.0,596.3 326.8,596.8 327.5,597.3 328.3,598.7 328.4,599.9 328.9,596.9 329.9,596.8 330.2,600.0 330.6,596.6 331.1,595.1 331.5,597.6 331.7,598.8 332.6,597.6 332.6,596.8 333.3,600.4 334.1,596.8 334.8,596.0 335.3,596.1 335.1,595.8 335.8,596.8 336.5,592.6 337.3,592.4 338.0,592.2 337.8,591.7 339.0,583.9 339.2,579.9 339.5,574.8 339.6,573.4 340.0,566.3 341.3,564.9 341.7,556.2 342.3,556.9 342.4,551.6 342.9,548.2 343.7,548.7 343.5,551.8 344.1,539.0 345.1,536.1 345.7,538.5 346.4,543.7 346.4,530.8 346.8,539.3 347.2,535.8 348.0,539.6 349.1,529.3 349.1,532.0 349.9,536.4 349.7,535.7 350.4,530.4 351.2,530.0 351.2,523.7 352.4,530.1 352.6,518.9 353.2,524.5 353.1,521.5 354.5,529.8 354.0,518.7 354.5,517.7 355.0,524.4 356.0,515.8 356.5,517.5 357.5,521.9 357.3,512.2 357.8,504.7 358.7,517.8 359.0,511.8 359.7,509.8 360.2,505.7 360.7,506.1 361.2,503.8 361.0,505.6 361.9,507.9 362.4,504.5 363.2,497.5 363.8,490.4 364.3,502.7 364.8,505.3 365.4,501.8 365.4,491.3 366.6,500.1 366.0,501.4 367.3,495.8 367.5,489.8 367.9,487.0 368.7,492.2 368.8,493.0 369.8,499.3 370.5,490.4 370.3,487.7 370.6,502.2 371.3,496.7 372.0,488.6 372.1,490.5 373.0,494.0 373.3,476.6 374.4,490.9 374.7,491.7 374.8,478.7 375.1,489.3 375.9,483.8 377.0,490.4 376.5,485.4 377.0,478.6 377.7,484.6 378.1,467.1 379.1,487.2 379.6,481.6 380.4,489.7 380.1,484.7 381.4,480.6 381.6,481.2 382.3,474.1 382.7,474.1 382.8,476.9 383.7,482.8 383.5,481.7 384.5,479.8 384.9,485.9 385.7,468.0 386.2,476.9 386.6,476.9 386.8,472.4 387.1,456.9 388.5,475.0 388.9,473.0 389.1,475.6 389.3,467.2 389.9,466.6 390.1,478.7 391.2,480.6 391.2,473.1 391.8,458.5 392.3,460.4 393.3,466.1 393.2,472.3 394.5,474.6 394.7,469.4 395.3,474.2 395.8,455.7 395.8,468.0 396.6,459.8 397.3,487.5 398.0,479.1 397.9,483.6 398.8,478.3 398.6,477.4 399.4,482.5 400.2,473.4 400.6,479.8 400.8,475.6 401.3,486.5 401.6,483.1 402.0,474.1 403.1,466.4 403.1,468.9 404.1,464.3 404.9,464.8 405.4,473.8 405.4,453.5 405.5,467.6 406.2,461.4 407.4,479.1 407.9,478.2 408.3,453.1 408.4,469.6 409.5,461.4 409.0,464.8 410.3,461.6 410.4,464.5 411.3,475.1 411.7,464.0 412.2,467.1 412.3,474.9 413.4,466.9 413.7,467.1 414.4,474.9 414.4,472.0 414.6,468.1 415.6,461.9 415.7,470.1 416.7,463.9 417.2,468.1 417.3,471.5 417.8,469.5 418.2,467.6 418.6,473.1 419.3,479.0 420.4,466.3 421.0,466.8 421.3,463.3 421.4,453.1 422.3,473.0 422.3,462.4 423.2,471.8 423.6,480.5 423.5,459.9 424.7,461.8 425.4,489.1 425.1,454.5 426.4,473.0 426.3,458.5 426.8,450.5 427.0,468.8 427.6,456.0 428.0,470.7 429.1,454.8 429.5,442.5 429.5,474.8 430.6,459.2 430.7,464.6 431.3,481.8 432.3,465.7 432.8,473.1 432.8,465.0 433.3,468.9 434.3,451.7 434.1,471.0 435.5,447.7 435.3,460.3 435.9,465.5 436.7,465.9 437.5,483.8 437.7,474.0 438.0,482.4 438.2,469.1 438.5,483.8 439.3,467.0 440.5,464.7 441.1,466.0 441.1,475.0 441.5,477.5 442.4,479.8 442.7,458.1 443.0,476.0 443.2,472.8 443.9,463.1 444.0,480.5 445.2,463.5 445.7,466.8 445.6,473.8 446.3,472.8 447.1,471.9 447.3,475.1 448.0,460.5 448.3,482.8 449.2,484.0 449.7,470.6 450.1,465.0 450.6,455.7 451.3,467.3 451.6,466.7 451.9,455.4 452.1,462.6 452.5,463.0 453.9,476.1 453.8,470.5 454.3,470.3 454.5,475.1 455.0,475.7 455.6,458.7 456.4,486.3 457.1,461.4 457.4,463.3 457.6,464.0 458.4,487.6 459.0,480.8 459.4,480.6 460.3,486.5 460.6,467.9 461.0,472.8 461.9,481.7 462.2,475.7 462.8,466.2 463.5,465.3 463.4,476.1 464.3,482.3 464.1,477.8 465.4,462.2 465.1,474.9 466.3,466.5 466.2,465.0 466.7,463.6 467.2,480.6 468.2,464.1 468.8,467.0 469.0,465.3 469.4,473.4 469.9,475.3 470.2,471.2 471.3,486.4 471.8,477.1 471.7,453.7 473.0,486.2 473.4,479.0 473.1,476.3 474.2,471.7 474.2,473.1 474.5,474.1 475.3,466.7 475.5,463.2 476.9,464.6 476.5,482.5 477.2,462.7 477.9,474.0 478.4,471.7 478.5,468.8 479.9,463.0 480.3,456.7 480.5,480.8 481.3,484.3 481.0,476.1 482.4,476.2 482.6,481.0 483.4,486.5 483.6,478.7 483.6,472.5 484.9,480.7 485.2,481.2 486.0,464.6 486.5,475.6 486.6,461.8 487.5,463.3 487.2,470.2 487.5,490.7 488.4,481.6 488.6,476.3 490.0,480.5 489.6,485.0 491.0,458.0 491.2,482.3 491.7,487.4 492.4,478.5 492.8,480.2 493.1,475.7 493.0,454.7 494.2,474.9 494.5,470.7 494.7,478.3 495.3,482.0 496.4,468.6 496.4,471.6 497.2,475.0 497.4,461.4 497.5,466.4 498.1,481.5 499.5,470.9 499.7,476.4 499.8,473.3 500.0,486.6 500.7,468.5 501.2,474.2 501.8,470.6 503.0,477.2 503.0,473.0" fill="none" stroke-width="1.9" stroke-linejoin="round"/>
<path d="M91.5,636.8 92.4,636.8 92.1,636.6 92.8,637.1 93.4,637.0 93.7,639.0 94.2,638.3 94.6,636.8 95.9,638.1 95.7,636.5 96.0,636.2 96.9,637.6 97.0,636.7 97.9,638.3 98.7,636.3 99.1,637.2 99.6,637.9 100.5,636.0 100.6,637.1 100.5,636.9 101.1,637.5 102.1,636.7 102.2,636.4 103.4,635.8 103.4,637.1 104.2,637.7 104.0,637.5 104.6,638.2 106.0,638.1 105.5,637.1 106.1,637.3 107.1,637.8 107.6,636.5 107.7,638.2 108.9,638.2 109.0,638.4 109.3,638.1 110.1,637.8 110.3,636.0 111.2,637.6 111.1,637.6 111.8,638.5 112.7,636.4 113.5,638.3 114.1,637.5 113.5,636.9 114.1,636.9 115.4,636.3 115.0,637.4 116.4,635.6 116.8,636.1 116.5,638.4 117.7,636.2 118.0,635.8 119.0,637.3 119.5,636.5 119.2,637.0 119.6,636.5 120.0,636.4 121.1,636.9 121.0,636.6 121.5,637.6 122.7,636.2 122.9,637.4 123.5,636.6 123.6,636.9 124.2,637.3 124.6,637.2 125.2,637.1 126.0,636.7 126.9,635.6 126.7,636.5 127.6,635.4 127.7,636.1 128.1,635.1 128.6,635.2 129.3,633.1 130.5,634.3 130.8,633.3 130.7,632.5 131.1,631.9 131.9,633.5 132.7,632.8 132.9,631.6 133.2,633.0 134.3,631.7 134.1,630.8 135.5,630.8 135.0,629.1 136.5,629.3 136.5,630.0 137.1,628.8 137.7,629.6 137.8,628.2 138.9,628.0 138.9,626.2 139.8,627.2 139.8,628.1 140.9,625.2 141.3,625.9 141.2,624.8 142.3,625.7 142.4,625.0 142.5,625.7 143.5,625.2 143.5,623.4 144.2,624.6 145.3,624.7 145.8,623.7 145.8,622.5 146.5,623.5 147.1,622.4 147.3,622.0 148.4,623.1 148.8,622.7 148.7,622.2 149.5,622.0 150.3,621.3 150.3,623.2 151.4,620.0 152.0,620.4 151.6,620.2 152.3,620.6 152.7,619.9 153.6,619.4 153.7,620.3 154.8,620.3 154.9,617.3 155.5,619.6 156.3,618.1 156.2,618.3 157.4,617.7 157.6,618.4 158.0,618.5 158.1,615.8 159.1,617.8 159.4,615.3 159.6,617.5 160.2,616.8 161.5,616.2 161.6,617.5 161.5,617.8 162.1,617.1 163.3,614.2 163.4,616.2 163.7,615.9 164.9,615.9 165.4,615.8 165.4,615.9 165.7,616.4 166.1,616.2 167.5,615.5 167.9,612.2 167.7,615.7 169.0,615.2 169.3,614.4 169.1,615.0 170.0,614.0 170.7,611.0 170.8,614.1 171.7,614.4 171.6,613.7 172.0,611.0 173.3,614.7 173.1,613.3 173.6,615.6 174.2,613.4 175.4,612.3 175.1,609.4 176.4,612.3 176.3,611.6 177.5,609.5 177.6,610.9 177.6,613.2 178.0,611.8 179.0,610.6 179.6,612.4 179.7,609.9 180.5,609.4 180.7,612.8 181.9,612.1 181.8,611.5 182.8,609.5 183.2,610.2 183.5,607.2 183.8,610.1 184.6,608.8 184.7,610.1 185.5,608.4 186.1,609.3 186.4,610.0 187.0,607.0 187.9,608.1 187.9,609.0 188.3,608.8 188.6,607.0 189.0,605.7 190.3,609.3 190.9,607.3 190.8,607.0 191.1,607.1 191.7,608.5 192.7,603.8 192.6,606.2 193.2,606.5 194.4,607.5 194.8,604.6 195.5,608.6 195.6,605.9 196.5,604.7 196.7,604.2 197.1,602.2 197.7,607.2 198.4,602.9 198.1,606.0 198.8,606.9 199.5,606.2 199.6,604.1 200.9,603.8 200.7,605.3 201.9,604.0 201.9,603.1 202.0,603.9 203.2,604.3 203.4,604.2 204.0,602.6 204.4,605.1 205.3,602.3 205.5,605.2 205.7,602.8 206.3,603.6 206.8,603.9 207.2,605.6 207.9,603.5 208.1,604.7 209.3,603.5 209.5,604.1 209.6,603.2 210.3,601.5 210.7,604.6 211.7,602.1 212.1,603.8 212.4,601.4 212.9,602.1 213.7,604.5 213.7,601.3 214.7,603.0 214.6,605.0 215.5,603.3 215.6,600.9 216.4,605.1 216.9,603.6 217.6,603.7 217.6,602.8 219.0,603.6 218.8,603.4 219.0,603.7 219.5,602.6 220.2,601.1 221.0,600.8 222.0,602.9 222.3,601.0 223.0,602.2 223.5,600.5 223.6,601.8 223.5,602.7 224.7,602.8 225.3,603.8 225.0,601.1 226.1,605.8 226.3,601.8 227.1,603.0 227.3,603.5 227.8,600.7 228.9,601.4 228.8,603.5 229.6,604.3 229.9,602.8 230.7,601.9 230.9,604.6 231.8,604.3 231.6,601.0 233.0,603.5 233.4,603.8 233.4,601.6 233.6,601.5 234.8,604.3 234.8,601.8 235.7,603.1 235.7,602.2 236.5,602.1 237.3,602.3 238.0,600.7 237.8,602.5 238.8,601.8 238.6,602.0 239.5,605.1 239.9,603.4 240.3,600.7 241.5,599.9 241.5,603.5 241.6,601.5 242.8,602.2 243.3,600.5 243.3,603.3 243.6,603.6 244.0,602.4 244.7,603.1 245.2,601.1 245.9,602.6 246.9,602.9 246.6,603.5 247.2,601.6 247.8,602.6 248.6,599.2 248.5,601.5 249.1,600.9 249.5,600.4 250.5,602.6 251.1,604.1 251.1,601.6 252.3,603.6 252.6,602.3 253.1,603.3 253.0,602.7 253.9,602.4 254.1,599.9 254.6,602.0 255.5,599.3 255.7,601.2 256.9,602.6 256.8,601.5 257.0,599.4 258.2,601.6 258.4,602.9 258.5,598.4 259.7,600.7 260.3,598.8 260.0,600.9 261.0,600.3 261.7,598.9 261.7,602.5 262.2,600.1 263.4,603.1 263.2,600.2 264.1,600.3 264.6,599.5 265.4,602.7 265.0,601.7 266.2,600.8 266.3,603.6 267.2,600.5 267.0,603.5 268.1,604.2 268.6,602.4 269.0,602.6 270.0,601.8 269.9,598.8 270.3,600.8 271.2,602.3 271.0,601.6 272.0,601.2 272.1,600.2 273.0,602.4 273.4,603.4 273.9,601.8 274.7,600.0 275.5,601.2 275.8,601.4 276.4,601.0 276.7,599.6 277.4,601.9 278.0,602.7 278.1,599.7 278.9,600.9 278.6,598.3 279.5,600.1 280.0,598.3 280.7,599.5 280.8,600.3 281.7,600.0 282.4,598.5 282.0,600.5 283.1,599.3 283.4,600.4 283.7,602.6 285.0,600.9 285.2,599.6 285.1,601.5 286.0,599.0 286.9,600.2 286.5,600.5 287.2,601.4 288.1,601.3 288.6,600.0 289.1,602.7 289.5,602.4 289.5,601.5 290.5,602.5 291.1,600.5 291.0,599.6 292.6,602.4 292.2,601.0 292.8,600.4 293.8,599.0 293.8,600.9 294.3,602.4 295.4,600.6 295.3,602.0 296.1,600.2 296.8,601.8 296.9,598.5 297.6,598.7 298.1,600.6 298.5,601.2 299.4,600.2 299.5,599.4 300.4,602.7 300.5,600.1 301.3,601.3 301.3,600.0 302.1,599.6 302.0,600.5 303.5,603.6 304.0,600.5 303.8,600.3 304.6,601.5 304.7,600.4 305.2,599.9 306.4,598.9 306.3,597.1 306.6,600.1 307.5,600.2 307.9,602.7 308.2,601.2 309.5,600.5 309.4,601.8 310.1,599.6 310.2,598.3 311.0,598.6 311.5,599.8 312.2,602.4 313.0,602.2 312.9,601.9 313.6,600.1 314.0,602.2 314.4,597.8 315.5,601.4 315.5,602.2 315.8,598.8 316.8,599.9 316.7,602.2 317.1,600.1 317.9,599.8 318.1,602.8 318.6,600.1 319.5,597.7 320.5,598.8 320.1,600.9 320.8,601.2 321.1,600.6 321.8,597.8 322.2,599.7 323.1,602.3 323.1,598.7 323.9,600.3 324.5,599.6 325.5,601.3 325.3,598.4 326.2,598.9 326.5,600.7 326.9,598.8 327.2,597.2 327.9,598.0 328.9,600.0 329.1,598.6 329.5,599.2 329.5,600.6 330.3,598.4 330.7,597.4 331.0,597.6 332.2,599.9 332.1,597.9 332.8,597.3 333.7,599.9 334.4,598.9 334.5,599.4 335.1,600.8 335.5,597.3 335.5,601.6 336.3,599.9 336.8,597.8 337.0,597.2 338.4,598.8 338.3,599.6 338.7,599.6 339.1,599.1 339.8,595.7 340.9,594.1 341.3,595.0 341.6,591.1 342.5,591.8 342.0,585.7 343.2,589.4 343.3,587.0 343.6,580.5 344.6,576.0 344.8,576.1 345.7,567.5 346.2,564.6 346.6,563.2 346.9,556.1 348.0,554.7 348.2,554.4 348.0,548.8 348.6,550.3 349.6,542.4 350.3,543.2 350.9,541.4 350.6,539.0 351.7,536.9 351.5,532.4 352.2,539.5 352.6,536.1 353.3,536.3 354.1,537.4 354.6,531.1 354.8,531.3 355.5,533.3 356.5,530.3 356.2,532.3 357.3,533.2 357.0,530.7 357.8,529.8 358.3,523.4 359.3,530.5 359.8,519.4 359.8,527.2 360.1,527.8 360.7,518.6 361.1,526.8 361.6,526.7 362.8,518.7 362.8,522.8 363.3,517.2 364.3,516.8 364.8,523.2 365.4,512.6 365.2,516.4 366.0,514.6 366.0,512.8 367.3,515.1 367.7,510.2 368.3,509.3 368.4,509.4 368.8,498.3 369.6,507.2 370.2,499.8 370.4,499.4 370.7,502.7 371.0,501.2 371.8,499.6 372.1,503.8 372.7,510.9 373.6,503.2 374.5,499.0 374.9,494.7 374.8,497.0 375.7,489.9 375.8,488.3 376.4,502.8 377.5,494.3 377.6,492.9 378.2,492.6 378.9,480.9 379.3,477.9 380.0,483.1 380.0,495.3 380.7,488.5 381.2,495.1 381.3,499.1 381.6,495.9 382.1,492.8 383.3,480.5 383.7,487.9 383.9,482.9 384.7,490.4 384.6,475.9 385.7,484.8 385.6,478.8 386.3,491.2 387.4,488.7 387.9,486.9 387.7,495.6 388.0,479.6 388.9,473.5 390.0,482.6 390.2,483.2 390.9,476.2 391.4,472.5 391.1,475.5 392.4,471.4 392.9,470.5 392.7,477.9 393.4,487.1 393.8,477.5 394.1,483.3 394.5,479.3 395.8,472.6 396.2,467.7 396.2,483.9 396.9,485.7 397.8,482.5 397.6,467.3 398.8,479.5 399.4,465.5 399.1,487.1 400.4,474.4 400.2,463.9 401.1,467.8 401.2,464.1 401.7,476.6 402.8,485.4 402.9,460.8 403.2,465.8 404.2,456.2 404.4,489.4 405.0,479.5 405.2,463.0 406.3,467.8 406.9,474.8 407.3,483.0 407.5,471.2 407.8,473.3 408.2,471.2 408.6,474.1 409.4,458.5 409.6,472.1 410.8,464.9 411.2,478.4 411.6,464.7 412.5,475.0 412.4,476.0 413.3,471.6 414.0,480.3 414.5,469.2 414.7,464.6 415.0,477.7 415.4,467.6 415.8,476.8 416.4,472.1 416.6,482.1 417.7,487.4 417.5,458.3 418.6,464.6 419.1,464.9 419.8,476.8 419.7,480.0 420.1,483.8 421.4,463.6 421.1,457.5 421.5,461.0 422.7,464.2 423.1,475.5 424.0,480.3 424.5,476.4 424.7,454.5 424.8,463.3 425.3,478.2 425.6,469.5 426.1,470.8 427.2,472.3 427.4,473.6 427.5,474.2 428.2,465.8 429.5,480.2 429.2,456.6 430.4,475.6 430.1,463.4 430.9,468.9 431.9,476.2 432.3,469.9 432.8,458.6 433.5,494.5 433.6,470.2 433.6,472.8 434.6,459.2 435.3,473.4 435.9,464.0 435.6,471.0 436.7,466.6 437.4,466.0 437.1,451.2 437.6,467.3 438.0,466.4 438.8,478.5 439.2,466.9 439.6,476.2 440.4,460.6 440.9,468.8 441.3,463.4 442.1,463.9 442.9,462.0 442.6,466.6 443.4,460.1 443.9,478.6 444.0,470.7 444.9,475.5 445.2,457.6 446.0,467.4 446.3,464.6 447.3,476.3 447.7,468.0 447.7,458.0 448.8,456.9 449.3,467.0 449.5,473.0 449.8,474.7 451.0,474.3 450.6,460.5 451.0,471.1 451.9,476.0 452.5,460.3 452.8,464.2 453.0,464.6 454.3,459.5 454.3,482.7 454.8,479.3 455.1,473.5 456.2,472.8 456.2,476.3 456.6,455.6 457.9,458.2 457.8,471.2 459.0,480.8 459.3,475.0 459.9,484.1 459.8,478.1 460.5,458.5 461.3,469.0 461.4,472.0 461.7,456.6 462.8,476.0 463.3,472.2 463.4,468.3 463.6,477.3 464.1,457.0 464.9,458.8 465.0,463.1 466.1,463.5 466.0,472.8 467.4,466.7 467.3,474.1 468.2,470.2 468.4,468.8 469.5,469.7 469.2,476.9 470.4,459.5 470.1,475.8 470.6,468.7 471.8,469.4 471.8,463.1 472.4,454.2 473.4,465.5 473.1,470.3 473.6,461.9 474.3,468.1 475.4,477.9 475.7,471.7 476.0,470.6 476.6,470.5 477.4,481.8 477.3,474.3 478.4,479.3 479.0,467.2 479.0,456.3 480.0,457.7 480.3,482.7 480.0,474.0 480.6,473.0 481.0,481.1 481.6,468.9 482.4,487.4 482.6,479.7 483.5,478.5 484.3,484.0 484.9,455.8 485.0,471.0 485.5,465.0 486.3,470.6 486.3,477.1 487.2,458.6 487.5,466.2 487.6,468.4 488.4,486.9 489.3,472.7 490.0,490.8 490.1,475.1 490.9,477.2 491.3,460.6 491.4,473.8 491.7,481.7 492.7,458.3 493.3,494.1 493.3,479.1 494.0,474.8 494.9,477.8 495.2,483.3 495.6,483.5 495.7,479.1 497.0,483.2 497.3,465.4 497.2,469.8 497.9,472.8 498.7,489.4 499.1,481.6 499.0,483.4 499.5,483.5 500.2,468.3 501.5,479.8 501.8,481.5 501.8,487.6 502.2,486.7 503.0,468.8" fill="none" stroke-width="1.9" stroke-linejoin="round"/>
<path d="M91.5,638.5 92.2,637.4 92.9,639.4 93.5,639.3 93.0,639.1 93.8,637.6 94.1,638.6 94.8,638.6 95.5,638.3 96.5,639.7 96.4,637.5 96.5,639.1 97.4,637.9 97.9,640.2 98.3,638.8 98.9,638.9 99.3,638.4 100.5,637.9 100.3,637.5 101.1,638.4 101.5,639.6 101.8,637.8 102.0,638.1 102.7,638.7 103.1,637.7 103.8,638.4 104.8,638.2 105.5,639.6 105.5,638.7 106.1,638.3 106.4,639.9 107.1,637.2 107.0,639.2 107.9,638.2 108.8,637.9 108.5,640.3 109.9,637.9 110.0,637.8 110.4,639.2 111.0,638.3 112.0,637.5 112.1,639.4 112.9,639.3 113.1,639.0 113.6,637.4 114.4,638.7 114.0,639.5 115.3,639.1 115.6,640.0 116.4,637.6 116.3,639.3 116.8,639.4 117.7,637.5 117.8,637.9 118.5,638.3 118.8,636.8 119.3,638.0 119.7,639.1 120.7,637.9 120.9,638.4 121.7,638.5 121.7,637.9 122.4,639.9 123.4,638.1 123.0,637.5 123.5,638.3 124.6,637.9 125.5,638.8 125.3,639.4 125.5,638.4 126.5,636.7 127.0,635.9 127.1,636.9 127.5,636.0 128.9,635.6 129.1,635.6 129.6,634.8 129.5,634.0 130.6,634.7 131.1,634.4 131.9,635.4 131.7,633.2 132.1,632.7 132.7,634.7 133.3,632.5 133.5,631.1 134.4,632.2 135.5,631.8 135.8,632.2 135.5,629.7 136.7,631.5 137.0,631.2 137.2,629.5 137.9,627.9 138.6,631.0 138.6,628.7 139.7,628.1 139.5,628.4 140.7,627.5 141.1,628.1 141.5,628.4 141.8,628.0 142.8,626.8 142.5,625.2 143.7,627.9 143.7,625.9 144.1,625.8 144.8,624.8 145.9,624.0 146.1,624.0 146.1,624.1 147.0,622.4 147.4,623.0 147.8,621.9 148.0,623.3 148.9,623.2 149.8,622.6 149.6,622.3 150.4,623.5 150.8,623.4 151.3,623.1 151.5,624.4 152.1,622.0 152.8,619.8 153.4,621.1 153.5,622.6 154.2,621.1 155.0,619.3 155.4,619.4 156.2,620.3 156.3,620.5 157.3,619.5 157.8,618.2 158.2,619.5 158.7,619.8 159.5,619.9 159.8,619.8 159.6,617.9 161.0,618.0 161.3,618.5 161.4,617.8 162.1,616.9 162.7,619.0 162.9,616.2 163.1,618.4 163.5,615.6 164.6,616.7 165.2,616.4 165.4,615.4 165.6,615.6 166.2,617.2 166.7,615.2 167.8,616.1 168.0,615.1 168.7,616.1 168.7,615.3 169.6,615.4 170.4,614.4 170.3,615.0 170.7,613.8 171.9,615.7 172.4,614.1 172.2,613.0 173.1,615.1 173.4,614.4 174.2,614.7 174.7,614.6 175.5,612.9 175.6,614.0 176.0,614.5 176.3,614.1 177.5,613.9 177.9,610.1 177.6,614.5 178.9,611.4 179.0,611.8 179.8,610.4 179.8,610.7 180.4,612.2 181.3,612.2 181.2,610.5 181.9,610.4 182.4,612.5 182.7,610.6 183.7,609.1 183.4,611.1 184.8,610.7 184.5,611.9 185.7,609.7 185.7,609.8 186.8,609.5 186.6,609.8 187.5,608.5 187.9,610.5 188.8,606.7 188.9,609.8 189.7,610.1 190.3,610.1 190.5,608.7 191.5,606.0 191.2,609.0 192.4,607.0 192.7,607.9 192.8,608.0 193.0,606.6 194.5,609.3 194.8,606.7 195.1,608.6 195.0,607.9 196.2,606.7 196.7,608.0 196.8,608.7 197.6,605.9 198.2,607.5 198.8,605.0 198.5,606.4 199.2,606.5 199.9,606.7 200.4,605.1 201.2,606.8 201.6,608.2 201.7,607.5 203.0,606.8 202.5,606.1 203.5,604.3 203.7,607.7 204.0,604.6 205.4,605.0 205.2,606.8 206.0,605.8 206.1,606.6 207.4,605.8 207.7,604.7 207.6,605.4 208.3,605.9 208.5,604.5 209.4,606.8 209.6,604.8 210.3,603.6 210.5,605.8 211.5,606.4 211.8,607.6 213.0,605.4 213.2,604.4 213.4,603.1 214.1,605.2 215.0,605.9 214.5,604.6 215.8,603.2 216.5,603.6 216.4,602.7 216.8,604.8 217.4,605.0 218.4,604.2 218.8,606.0 219.2,606.9 219.1,603.2 220.1,607.6 220.0,602.0 220.5,602.7 221.6,604.1 222.3,605.8 222.2,602.8 222.8,607.2 223.4,604.3 224.0,605.0 224.3,607.0 225.0,605.3 225.8,605.4 226.3,604.2 226.7,605.8 227.3,603.5 227.5,604.6 228.0,606.6 228.3,605.8 229.1,604.5 229.8,604.5 230.2,604.4 230.7,603.4 230.7,606.3 231.5,604.2 232.2,604.3 232.1,604.9 233.2,605.9 234.0,604.1 234.0,604.8 234.6,602.5 235.0,603.8 235.3,604.9 236.5,604.3 236.4,602.8 237.0,605.1 237.5,601.6 238.0,604.7 238.6,603.3 239.2,604.7 239.9,603.6 239.9,605.2 240.1,604.0 241.1,603.8 241.6,605.8 242.0,603.5 243.0,604.0 243.4,604.1 243.0,602.9 244.5,603.8 244.3,603.6 244.7,603.6 245.0,604.0 246.2,601.9 246.7,601.7 246.8,604.7 247.7,604.6 248.5,605.6 248.3,604.6 249.1,603.8 249.0,603.7 250.3,604.7 250.2,604.8 251.1,605.3 251.5,602.5 252.3,604.6 253.0,602.7 253.1,603.9 254.0,605.6 253.9,603.1 254.0,603.8 255.4,603.9 255.0,600.3 255.9,604.5 256.6,604.5 257.3,602.8 257.4,602.7 258.0,601.2 258.4,603.9 259.2,603.4 259.2,603.1 259.8,604.2 260.4,602.0 261.3,603.8 261.4,603.2 262.1,602.8 262.0,603.6 263.5,603.0 263.0,602.0 263.6,603.4 264.6,602.2 264.7,601.6 265.0,604.5 266.0,601.0 267.0,601.8 266.5,604.4 268.0,603.0 267.7,602.0 268.5,603.1 269.0,601.2 269.7,603.4 270.4,602.9 270.4,602.7 271.0,603.7 271.8,601.9 271.6,603.0 272.7,601.6 273.5,603.5 273.7,603.8 274.3,601.8 274.2,601.7 275.2,601.3 275.4,603.6 276.2,601.8 276.3,603.5 277.2,602.1 277.2,601.1 277.9,603.1 278.6,603.7 278.5,603.3 279.8,601.7 280.3,602.4 280.0,602.1 280.9,602.3 281.2,604.3 281.8,601.5 282.7,603.3 282.7,601.8 283.4,600.8 284.1,604.9 284.1,604.1 284.8,601.1 285.7,602.2 286.3,600.9 286.9,604.0 287.0,603.0 287.3,602.8 287.8,601.5 288.3,603.1 288.8,602.3 289.3,602.9 290.5,602.1 290.2,601.6 291.5,603.3 291.3,602.9 292.3,603.1 292.0,603.4 292.8,602.9 293.6,603.0 293.6,602.8 295.0,603.9 294.9,603.6 295.7,603.9 296.0,601.8 296.3,601.5 296.6,601.7 298.0,602.6 297.6,603.3 298.0,602.5 299.4,602.1 299.7,601.8 300.5,603.6 301.0,600.3 300.6,600.6 301.9,602.3 302.3,603.3 302.7,604.9 302.8,602.3 303.1,601.6 304.2,600.9 304.1,602.5 305.3,601.4 305.4,601.0 306.4,605.0 306.8,601.8 307.5,602.3 307.9,600.9 307.6,601.7 308.2,602.3 309.0,602.8 309.0,603.4 310.0,602.3 310.4,603.8 311.4,601.0 312.0,602.8 312.1,600.5 313.0,602.1 312.8,602.0 314.0,602.1 314.0,601.6 314.0,600.9 315.4,602.2 315.0,603.1 316.3,602.9 316.2,599.8 317.5,601.0 317.3,602.9 317.6,602.4 318.7,600.0 318.6,601.4 319.9,600.5 319.7,601.2 320.2,599.5 321.5,603.9 321.8,601.0 322.3,603.9 322.4,603.3 322.6,602.7 323.2,601.8 324.2,601.7 324.7,601.6 325.4,602.5 325.6,600.2 326.5,603.1 326.5,601.3 327.5,601.1 327.5,600.9 328.2,602.3 329.0,602.6 328.7,602.4 329.3,602.5 329.5,603.6 330.4,601.6 330.9,600.0 331.9,601.7 331.9,601.5 333.0,601.5 332.8,600.2 333.3,601.1 334.1,600.9 334.0,602.4 335.2,602.1 335.3,603.1 336.3,598.6 336.7,598.9 337.5,595.8 337.6,592.6 337.8,589.0 338.6,585.7 339.2,581.0 339.4,581.6 340.2,575.3 341.0,569.3 341.2,564.1 341.1,561.0 342.2,556.5 343.0,553.2 342.5,552.6 343.2,543.4 344.1,548.0 344.5,548.3 344.9,549.0 345.4,545.0 346.1,542.8 346.7,541.8 347.2,544.3 347.4,549.9 348.5,545.3 348.9,541.2 348.6,545.7 349.1,542.0 349.7,549.9 350.2,543.9 350.5,547.4 351.5,544.8 351.5,542.9 352.5,551.9 352.8,544.4 353.1,548.9 353.7,547.9 354.7,551.9 355.2,551.6 355.2,549.5 356.2,548.4 356.5,544.2 356.9,548.7 357.7,550.4 357.9,547.8 358.4,550.2 358.6,551.5 359.6,549.5 359.8,552.1 360.7,547.3 361.0,545.4 361.0,552.0 361.8,550.0 362.7,552.3 363.0,545.4 364.0,551.4 363.5,551.3 364.7,551.5 365.0,549.2 365.0,551.4 365.6,546.4 366.5,551.5 367.4,549.8 367.1,554.8 367.8,551.1 368.9,548.2 368.9,549.9 369.6,544.7 369.9,549.6 370.3,545.8 371.4,551.6 371.5,552.8 372.4,545.7 372.8,551.1 372.6,547.6 374.0,548.7 373.6,549.7 374.5,548.3 375.1,550.6 375.7,549.7 375.9,546.8 376.0,546.9 377.5,549.0 377.5,546.8 378.3,546.5 378.8,544.4 379.4,548.6 379.2,551.1 380.5,548.9 380.1,546.6 381.4,547.5 381.3,547.4 381.5,543.7 382.7,546.5 383.5,546.7 383.2,546.3 383.6,546.4 384.9,550.8 385.5,545.5 385.3,542.2 386.1,548.6 386.5,548.4 387.2,542.5 387.9,549.4 388.0,551.9 388.9,540.6 388.9,543.1 389.5,544.3 389.5,550.0 390.7,548.3 391.1,543.1 391.3,548.9 391.9,543.4 392.9,544.2 392.5,543.5 393.1,549.3 394.1,545.1 394.6,541.9 395.4,544.0 395.2,542.2 395.5,546.8 396.0,548.0 396.6,547.3 397.6,546.6 398.2,548.1 398.2,546.6 399.1,545.2 399.0,545.8 399.9,539.7 400.3,543.7 401.5,543.3 401.8,548.2 401.6,546.0 402.1,545.8 402.5,549.7 403.8,546.4 403.9,543.5 404.0,547.4 404.5,546.2 405.9,543.2 406.2,545.2 406.9,543.9 407.2,545.6 407.8,545.5 407.6,540.2 408.7,541.9 408.6,548.2 409.1,546.3 409.5,546.6 411.0,546.2 410.7,541.9 411.8,545.0 411.9,547.4 412.2,540.0 412.9,543.8 413.2,547.5 413.9,545.3 414.6,548.0 414.9,542.4 415.6,543.2 415.9,542.8 416.0,545.3 417.5,544.7 417.0,549.3 417.7,544.7 418.1,541.4 419.3,539.2 419.7,544.3 420.1,540.4 421.0,540.9 420.9,540.2 421.7,542.7 422.5,539.4 422.4,543.6 423.5,538.6 423.9,543.0 423.9,539.1 424.4,550.5 424.6,541.0 425.4,539.8 425.8,544.8 426.5,539.6 427.4,546.6 428.0,543.5 428.2,538.2 428.7,542.6 429.4,540.6 429.7,540.5 430.1,545.9 430.2,542.0 430.6,542.6 431.6,544.1 432.5,540.9 432.1,541.0 432.8,542.6 433.7,540.7 434.4,542.4 434.3,542.4 434.5,541.1 435.7,543.3 436.4,539.9 436.3,541.2 436.6,539.1 437.5,544.9 437.7,549.1 438.3,546.1 438.9,540.1 439.0,547.8 440.4,543.9 440.7,540.5 440.9,541.5 441.2,540.8 441.6,540.1 442.0,541.7 443.4,544.2 443.4,543.0 444.1,548.4 445.0,544.9 445.5,541.4 445.1,540.3 446.0,539.9 446.0,547.0 446.8,542.2 447.3,541.6 447.7,545.0 448.8,541.1 449.3,543.8 449.2,543.8 450.1,539.6 450.5,539.4 451.1,539.5 451.7,543.8 451.5,542.3 452.4,547.0 453.3,539.1 454.0,541.2 454.0,544.3 454.6,540.8 454.5,541.6 455.0,538.9 456.0,538.9 456.3,540.8 457.5,538.4 457.7,539.1 458.0,542.5 458.5,545.4 459.4,540.3 459.7,538.0 460.4,543.4 460.9,546.3 461.2,541.7 461.9,543.5 462.1,543.0 462.9,542.7 462.9,541.2 463.7,541.9 463.7,547.7 464.2,549.8 465.3,541.0 465.7,542.5 465.7,536.0 466.2,542.9 467.5,543.4 467.3,537.4 468.3,543.1 469.0,539.6 469.5,542.2 469.0,538.9 470.3,540.1 470.5,544.6 471.0,540.9 471.0,546.7 472.1,542.4 472.0,542.5 472.9,539.0 474.0,544.0 473.6,540.1 474.5,543.4 474.9,540.6 475.9,543.2 475.5,543.0 476.3,544.0 477.2,543.4 477.7,546.8 478.5,540.2 478.7,538.9 478.7,542.5 479.8,542.2 479.7,539.3 480.9,544.1 481.5,547.6 481.2,541.6 481.6,545.1 482.4,541.0 482.6,542.4 483.9,544.1 484.3,545.6 484.4,536.6 484.5,538.4 485.5,537.2 486.0,544.7 486.9,545.4 486.7,542.0 487.6,544.1 487.9,542.0 488.4,540.9 488.8,541.9 489.5,547.5 490.3,544.6 490.6,539.5 490.5,545.0 491.0,545.6 491.5,544.4 492.8,544.7 492.7,540.0 493.8,539.7 494.1,537.5 494.8,543.0 494.5,540.0 495.1,538.7 495.9,543.9 496.9,539.3 497.1,539.9 497.7,546.4 498.4,540.0 498.4,544.0 498.8,546.6 500.0,544.2 500.0,541.8 500.1,540.7 501.1,540.3 501.4,543.3 502.2,543.2 502.5,539.4" fill="none" stroke-width="1.9" stroke-linejoin="round"/>
</g>
</svg>
</body></html>
